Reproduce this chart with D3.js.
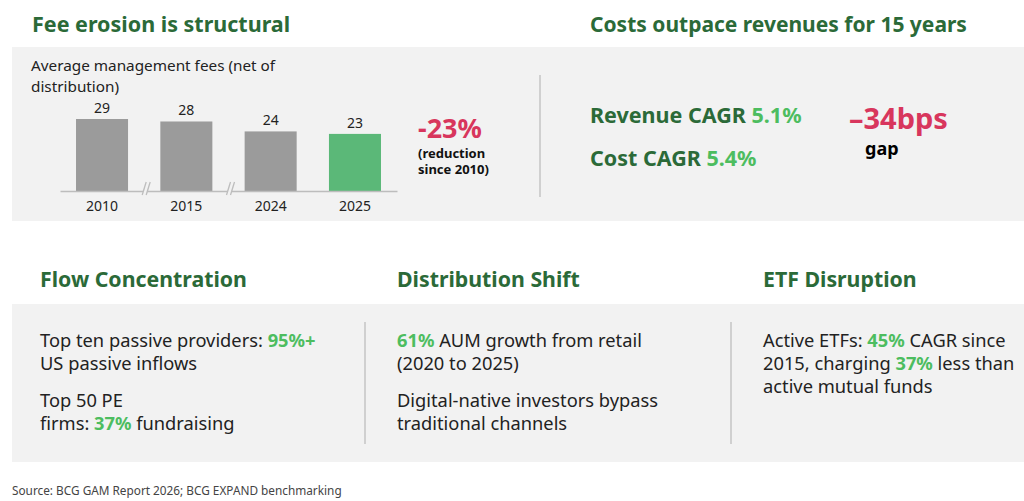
<!DOCTYPE html>
<html>
<head>
<meta charset="utf-8">
<script src="https://cdn.jsdelivr.net/npm/d3@7"></script>
<style>
  body { margin: 0; background: #fff; }
  svg { display: block; font-family: "Noto Sans", "Open Sans", sans-serif; }
</style>
</head>
<body>
<div id="chart"></div>
<script>
// data
var years = ["2010", "2015", "2024", "2025"];
var fees = [29, 28, 24, 23];
var breakAfter = ["2010", "2015"];   // axis breaks after these years

var revenueCagr = "5.1%";
var costCagr = "5.4%";
var gapLabel = "\u201334bps";
var reductionLabel = "-23%";

var svgWidth = 1024;
var svgHeight = 501;

var darkGreen = "#2b6a38";
var lightGreen = "#4dbd5f";
var red = "#d8365d";
var panel = "#f2f2f2";
var textColor = "#222";

var svg = d3.select("#chart").append("svg").attr("width", svgWidth).attr("height", svgHeight);

// panels
svg.append("rect").attr("x", 12).attr("y", 47).attr("width", 1012).attr("height", 174).attr("fill", panel);
svg.append("rect").attr("x", 12).attr("y", 304).attr("width", 1012).attr("height", 158).attr("fill", panel);

// section titles
var titles = [
  {t: "Fee erosion is structural", x: 32, y: 32, s: 21.5},
  {t: "Costs outpace revenues for 15 years", x: 590, y: 32, s: 21},
  {t: "Flow Concentration", x: 40, y: 287, s: 21.3},
  {t: "Distribution Shift", x: 397, y: 287, s: 21.3},
  {t: "ETF Disruption", x: 763, y: 287, s: 21.3}
];
svg.selectAll("text.title").data(titles).enter().append("text")
  .attr("class", "title")
  .attr("x", d => d.x).attr("y", d => d.y)
  .attr("font-size", d => d.s + "px").attr("font-weight", "bold")
  .attr("fill", darkGreen).text(d => d.t);

// ---- bar chart ----
var sub = svg.append("text").attr("x", 31).attr("y", 71).attr("font-size", "15.3px").attr("fill", textColor);
sub.append("tspan").attr("x", 31).text("Average management fees (net of");
sub.append("tspan").attr("x", 31).attr("dy", 21).text("distribution)");

var base = 191;
var xScale = d3.scaleBand().domain(years).range([60, 397]).paddingInner(0.383).paddingOuter(0.19);
var yScale = d3.scaleLinear().domain([0, 29]).range([base, 119]);

var chartGroup = svg.append("g");

chartGroup.selectAll("rect.bar").data(years).enter().append("rect")
  .attr("class", "bar")
  .attr("x", d => xScale(d))
  .attr("y", (d, i) => yScale(fees[i]))
  .attr("width", xScale.bandwidth())
  .attr("height", (d, i) => base - yScale(fees[i]))
  .attr("fill", (d, i) => i == years.length - 1 ? "#5bb878" : "#9b9b9b");

chartGroup.selectAll("text.val").data(years).enter().append("text")
  .attr("class", "val")
  .attr("x", d => xScale(d) + xScale.bandwidth() / 2)
  .attr("y", (d, i) => yScale(fees[i]) - 6)
  .attr("text-anchor", "middle").attr("font-size", "14px").attr("fill", textColor)
  .text((d, i) => fees[i]);

var bottomAxis = d3.axisBottom(xScale).tickSize(0).tickPadding(10);
var axisG = chartGroup.append("g").attr("transform", `translate(0,${base})`).call(bottomAxis);
axisG.select(".domain").attr("stroke", "#bdbdbd").attr("stroke-width", 1.5);
axisG.selectAll("text").attr("font-size", "14px").attr("fill", textColor)
  .attr("font-family", "\"Noto Sans\", sans-serif");

// axis breaks
breakAfter.forEach(function(y) {
  var i = years.indexOf(y);
  var mid = (xScale(years[i]) + xScale.bandwidth() + xScale(years[i + 1])) / 2 + 3;
  var g = chartGroup.append("g");
  g.append("path").attr("d", `M${mid - 5},${base + 4} L${mid - 1},${base - 9} L${mid + 3},${base - 9} L${mid - 1},${base + 4} Z`)
    .attr("fill", panel);
  g.append("line").attr("x1", mid - 5).attr("y1", base + 4).attr("x2", mid - 1).attr("y2", base - 9)
    .attr("stroke", "#bdbdbd").attr("stroke-width", 1.3);
  g.append("line").attr("x1", mid - 1).attr("y1", base + 4).attr("x2", mid + 3).attr("y2", base - 9)
    .attr("stroke", "#bdbdbd").attr("stroke-width", 1.3);
});

svg.append("text").attr("x", 418).attr("y", 138).attr("font-size", "27px").attr("font-weight", "bold")
  .attr("fill", red).text(reductionLabel);
var red2 = svg.append("text").attr("x", 418).attr("y", 158).attr("font-size", "13px").attr("font-weight", "bold")
  .attr("fill", "#111");
red2.append("tspan").attr("x", 418).text("(reduction");
red2.append("tspan").attr("x", 418).attr("dy", 16).text("since 2010)");

// ---- dividers ----
var dividers = [
  {x: 540, y1: 75, y2: 197},
  {x: 365, y1: 322, y2: 444},
  {x: 731, y1: 322, y2: 444}
];
svg.selectAll("line.div").data(dividers).enter().append("line")
  .attr("class", "div")
  .attr("x1", d => d.x).attr("x2", d => d.x).attr("y1", d => d.y1).attr("y2", d => d.y2)
  .attr("stroke", "#c4c4c4").attr("stroke-width", 1.5);

// ---- CAGR ----
function richText(x, y, size, weight, parts) {
  var t = svg.append("text").attr("x", x).attr("y", y).attr("font-size", size + "px").attr("font-weight", weight);
  parts.forEach(function(p) {
    t.append("tspan").attr("fill", p.c).attr("font-weight", p.b ? "bold" : null).text(p.t);
  });
  return t;
}
richText(590, 123, 21.5, "bold", [{t: "Revenue CAGR ", c: darkGreen}, {t: revenueCagr, c: lightGreen}]);
richText(590, 166, 21.5, "bold", [{t: "Cost CAGR ", c: darkGreen}, {t: costCagr, c: lightGreen}]);

svg.append("text").attr("x", 849).attr("y", 129).attr("font-size", "29px").attr("font-weight", "bold")
  .attr("fill", red).text(gapLabel);
svg.append("text").attr("x", 865).attr("y", 155).attr("font-size", "18px").attr("font-weight", "bold")
  .attr("fill", "#000").text("gap");

// ---- bottom panel text ----
var bodyLines = [
  {x: 40, y: 347, parts: [{t: "Top ten passive providers: "}, {t: "95%+", g: 1}]},
  {x: 40, y: 370, parts: [{t: "US passive inflows"}]},
  {x: 40, y: 407, parts: [{t: "Top 50 PE"}]},
  {x: 40, y: 430, parts: [{t: "firms: "}, {t: "37%", g: 1}, {t: " fundraising"}]},
  {x: 397, y: 347, parts: [{t: "61%", g: 1}, {t: " AUM growth from retail"}]},
  {x: 397, y: 370, parts: [{t: "(2020 to 2025)"}]},
  {x: 397, y: 407, parts: [{t: "Digital-native investors bypass"}]},
  {x: 397, y: 430, parts: [{t: "traditional channels"}]},
  {x: 763, y: 347, parts: [{t: "Active ETFs: "}, {t: "45%", g: 1}, {t: " CAGR since"}]},
  {x: 763, y: 370, parts: [{t: "2015, charging "}, {t: "37%", g: 1}, {t: " less than"}]},
  {x: 763, y: 393, parts: [{t: "active mutual funds"}]}
];
bodyLines.forEach(function(l) {
  richText(l.x, l.y, 18.3, "normal", l.parts.map(p => ({t: p.t, c: p.g ? lightGreen : textColor, b: p.g})));
});

svg.append("text").attr("x", 12).attr("y", 495).attr("font-size", "11.8px").attr("fill", "#444")
  .text("Source: BCG GAM Report 2026; BCG EXPAND benchmarking");
</script>
</body>
</html>
